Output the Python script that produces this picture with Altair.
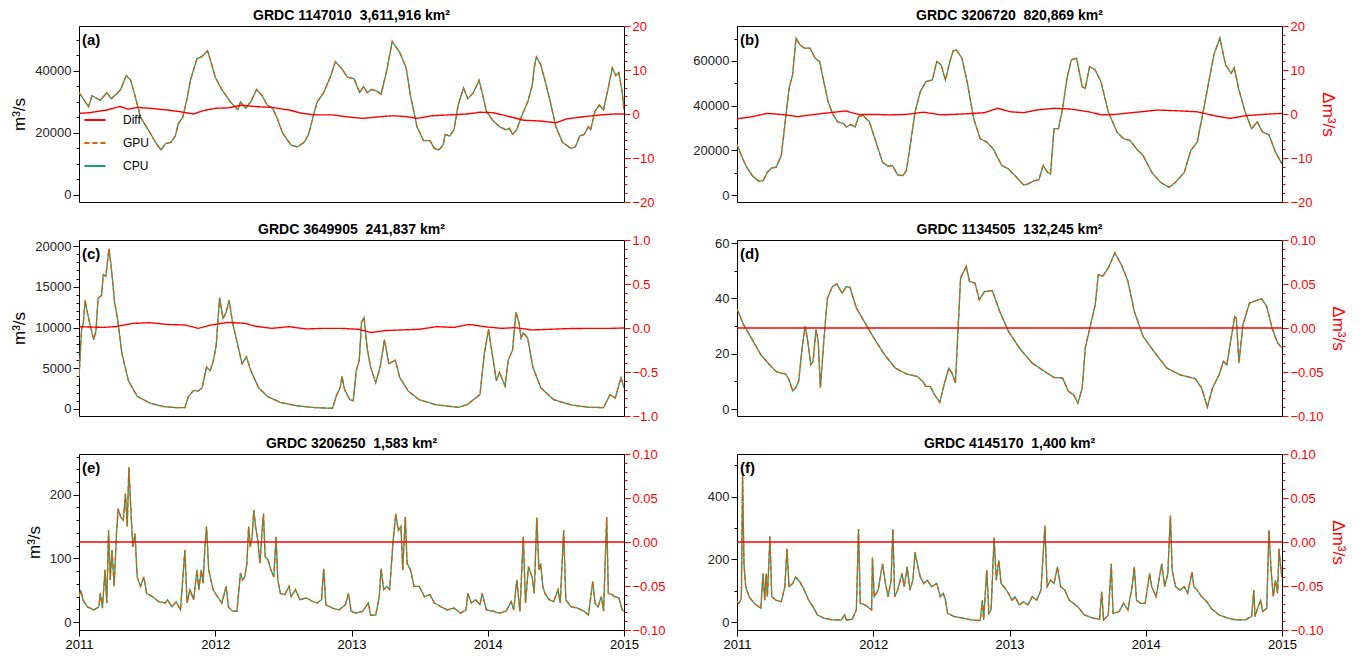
import altair as alt
import pandas as pd

FONT = "Liberation Sans"
C_GPU = "#d95f02"
C_CPU = "#1b9e77"
C_DIFF = "#ff0000"
SERIES = ["Diff", "GPU", "CPU"]

# ---------------- data (t = years since 2011-01-01) ----------------
a_t = [0.000,0.070,0.096,0.156,0.204,0.236,0.274,0.306,0.347,0.379,0.411,0.452,0.522,0.561,0.602,0.634,0.675,0.707,0.729,0.761,
       0.793,0.818,0.866,0.898,0.943,0.968,1.000,1.048,1.111,1.166,1.185,1.223,1.261,1.303,1.344,1.382,1.420,1.452,1.494,1.557,
       1.605,1.653,1.685,1.717,1.748,1.796,1.844,1.882,1.924,1.971,2.019,2.060,2.089,2.115,2.146,2.185,2.217,2.258,2.299,2.322,
       2.354,2.401,2.433,2.481,2.529,2.576,2.608,2.640,2.672,2.688,2.720,2.752,2.783,2.822,2.854,2.895,2.936,2.959,2.990,3.038,
       3.086,3.134,3.159,3.182,3.213,3.245,3.293,3.325,3.341,3.357,3.389,3.420,3.459,3.500,3.548,3.611,3.643,3.675,3.707,3.739,
       3.755,3.787,3.818,3.850,3.882,3.914,3.939,3.962,3.987,4.000]
a_q = [33000,28500,32000,30500,33000,31000,32500,34000,38500,37000,32000,25000,20000,17000,14500,16500,17000,19000,23000,25000,
       31000,37000,44000,44500,46500,43000,38000,34000,30000,27500,30000,28000,30000,34000,32000,29000,28000,25000,20000,16000,
       15500,17000,19500,25000,30000,33000,38000,43000,41000,38000,37500,33000,35000,33000,34000,33500,32500,40000,49500,48000,
       46000,41000,32000,22000,17500,17500,15000,14500,16000,19500,19000,21000,29000,34500,31000,33000,37000,33000,27000,24000,
       22000,21000,21500,19500,21000,25000,30000,35000,41000,44500,42000,37000,30000,22000,17000,15000,15500,19000,19500,22000,
       21000,27000,29000,27500,34000,41000,38500,39500,33000,27500]
a_dt = [0,0.076,0.204,0.299,0.363,0.427,0.522,0.650,0.745,0.841,0.904,1.000,1.096,1.191,1.287,1.414,1.541,1.637,1.732,1.860,
        1.955,2.083,2.210,2.306,2.401,2.481,2.592,2.720,2.847,2.943,3.038,3.134,3.261,3.389,3.500,3.580,3.707,3.834,3.930,4.0]
a_d = [0.15,0.3,0.9,1.7,1.1,1.5,1.3,0.9,0.5,0.0,0.7,1.3,1.4,2.0,1.7,1.5,0.9,0.15,-0.2,-0.2,
       -0.6,-1.0,-0.6,-0.4,-0.6,-1.0,-0.4,-0.2,0.0,0.4,0.3,-0.4,-1.4,-1.6,-2.0,-1.1,-0.6,-0.2,0.0,0.0]

b_t = [0.000,0.032,0.064,0.112,0.159,0.191,0.223,0.255,0.287,0.325,0.351,0.382,0.408,0.433,0.462,0.494,0.535,0.574,0.606,0.637,
       0.669,0.701,0.739,0.781,0.803,0.835,0.867,0.892,0.924,0.972,1.020,1.068,1.109,1.141,1.179,1.218,1.243,1.275,1.307,1.345,
       1.386,1.434,1.466,1.498,1.530,1.562,1.587,1.610,1.651,1.689,1.737,1.785,1.833,1.880,1.944,1.992,2.040,2.104,2.135,2.183,
       2.215,2.247,2.279,2.301,2.327,2.359,2.390,2.422,2.454,2.492,2.534,2.556,2.588,2.629,2.671,2.725,2.789,2.837,2.884,2.932,
       2.980,3.044,3.108,3.171,3.219,3.283,3.331,3.378,3.426,3.458,3.500,3.544,3.586,3.627,3.649,3.681,3.729,3.777,3.818,3.857,
       3.904,3.952,4.000]
b_q = [22650,17700,13200,8700,6150,6450,10200,12150,12450,17700,31200,47700,53700,70200,67200,65700,65700,61200,59700,50700,
       41700,36450,32700,31950,30450,31500,30450,34950,35700,32700,23700,14700,12900,13200,9000,8700,10950,23700,37200,46200,
       50700,51450,59700,58200,51450,59700,64500,64950,61200,50700,34200,25200,23700,20700,13200,11700,8700,4500,4950,6450,
       6750,13200,10200,9450,29700,29700,38700,52200,60450,61200,48450,47700,57450,55950,50700,37200,28200,25200,24450,20700,
       17700,10200,5700,3450,5700,10200,19950,23700,38700,49200,62700,70200,58200,54450,57000,47700,37200,29700,32700,28200,
       27000,19200,13950]
b_dt = [0,0.112,0.223,0.351,0.446,0.542,0.637,0.797,0.892,1.020,1.116,1.243,1.371,1.498,1.657,1.817,1.912,2.008,2.104,2.199,
        2.327,2.454,2.582,2.677,2.773,2.932,3.092,3.251,3.378,3.506,3.618,3.729,3.857,4.0]
b_d = [-1.1,-0.6,0.15,-0.2,-0.6,-0.2,0.15,0.7,-0.1,-0.1,-0.2,-0.1,0.4,-0.2,0.0,0.3,1.3,0.5,0.3,0.9,
       1.3,1.1,0.5,-0.2,-0.1,0.4,0.9,0.7,0.5,-0.4,-1.0,-0.4,-0.1,0.15]

c_t = [0,0.019,0.032,0.045,0.061,0.083,0.108,0.124,0.140,0.166,0.178,0.197,0.220,0.236,0.261,0.283,0.315,0.363,0.427,0.522,
       0.618,0.713,0.777,0.803,0.841,0.873,0.904,0.936,0.962,0.984,1.006,1.032,1.057,1.080,1.102,1.127,1.159,1.197,1.229,1.261,
       1.318,1.382,1.478,1.605,1.732,1.860,1.892,1.917,1.930,1.949,1.987,2.013,2.035,2.057,2.073,2.092,2.115,2.140,2.178,2.210,
       2.242,2.274,2.322,2.354,2.417,2.497,2.624,2.783,2.847,2.895,2.943,2.975,3.006,3.032,3.064,3.086,3.127,3.150,3.182,3.207,
       3.229,3.245,3.261,3.293,3.331,3.389,3.484,3.611,3.739,3.850,3.898,3.936,3.978,4.000]
c_q = [3870,9770,10600,13350,11870,10190,8500,9560,13560,13980,16500,16290,19660,17560,13140,11030,6820,3450,1560,715,
       295,170,170,1560,2270,2190,2610,5140,4720,5770,7660,13640,11110,11870,13350,10610,8290,5560,6400,4720,
       2610,1560,800,380,170,85,1770,2610,4000,2400,1140,1010,4720,5980,10610,11240,7450,5140,3240,5140,
       8500,5560,5980,3870,2190,1140,505,210,505,1140,1770,6820,9770,6820,3450,4500,2820,5980,7240,11870,
       10610,8710,9350,8710,5140,2610,1140,505,210,170,1770,1350,3870,2610]
c_dt = [0,0.172,0.268,0.395,0.522,0.650,0.777,0.873,0.968,1.096,1.223,1.287,1.414,1.541,1.669,1.796,1.924,2.051,2.146,2.242,
        2.369,2.497,2.624,2.752,2.863,2.975,3.102,3.197,3.325,3.452,3.580,3.739,3.898,4.0]
c_d = [0.015,0.007,0.015,0.052,0.06,0.04,0.034,-0.004,0.034,0.064,0.052,0.022,-0.004,0.015,-0.011,-0.004,-0.004,-0.015,-0.052,-0.03,
       -0.022,-0.015,0.015,0.007,0.041,0.015,-0.004,0.004,-0.022,-0.015,-0.007,-0.004,-0.004,0.0]

d_t = [0,0.048,0.112,0.175,0.239,0.287,0.319,0.357,0.382,0.408,0.430,0.453,0.478,0.500,0.516,0.542,0.558,0.580,0.596,0.612,
       0.637,0.663,0.701,0.733,0.771,0.803,0.829,0.876,0.940,1.004,1.084,1.163,1.243,1.323,1.364,1.386,1.418,1.450,1.488,1.520,
       1.555,1.578,1.603,1.641,1.683,1.705,1.747,1.778,1.817,1.874,1.928,1.992,2.072,2.167,2.263,2.327,2.390,2.432,2.470,2.502,
       2.534,2.556,2.598,2.629,2.652,2.684,2.725,2.773,2.821,2.869,2.916,2.980,3.060,3.155,3.251,3.363,3.410,3.452,3.490,3.538,
       3.570,3.595,3.627,3.653,3.665,3.684,3.713,3.761,3.809,3.850,3.888,3.927,3.968,4.000]
d_q = [36.3,30.5,25.1,19.6,16.0,13.6,13.0,12.7,10.6,6.6,7.6,10.2,22.1,29.9,25.7,16.0,17.2,28.7,24.5,7.6,
       24.5,40.1,44.3,45.2,41.9,44.3,44.0,36.5,31.1,25.7,19.6,14.8,12.7,11.8,10.0,8.2,8.2,5.2,2.4,8.8,
       14.8,13.0,9.4,47.4,51.6,46.2,45.5,39.5,42.5,42.8,35.3,28.1,22.1,16.6,13.4,11.4,11.2,6.4,5.2,2.2,
       7.6,22.1,31.1,37.7,48.6,48.0,51.0,56.4,52.2,46.2,35.3,26.3,20.8,14.8,12.4,11.0,7.6,0.7,7.6,12.4,
       17.2,16.0,25.7,33.5,32.9,16.6,30.5,38.3,39.2,39.9,37.1,29.3,23.9,22.1]
d_dt = [0, 4]
d_d = [0.0, 0.0]

e_t = [0,0.013,0.029,0.061,0.108,0.146,0.156,0.172,0.191,0.204,0.217,0.229,0.242,0.258,0.274,0.287,0.306,0.325,0.341,0.354,
       0.366,0.382,0.395,0.411,0.427,0.452,0.475,0.497,0.538,0.586,0.634,0.650,0.682,0.713,0.745,0.777,0.793,0.815,0.841,0.866,
       0.879,0.898,0.911,0.924,0.936,0.952,0.968,0.984,1.016,1.048,1.080,1.096,1.127,1.159,1.185,1.201,1.217,1.232,1.245,1.258,
       1.271,1.283,1.296,1.312,1.328,1.344,1.354,1.366,1.389,1.408,1.430,1.446,1.459,1.478,1.510,1.541,1.557,1.589,1.621,1.669,
       1.717,1.748,1.780,1.796,1.812,1.860,1.908,1.955,1.978,1.997,2.035,2.083,2.124,2.140,2.178,2.204,2.217,2.236,2.258,2.280,
       2.306,2.325,2.344,2.363,2.376,2.395,2.408,2.433,2.459,2.497,2.535,2.576,2.608,2.656,2.704,2.752,2.799,2.841,2.854,2.879,
       2.911,2.943,2.959,2.990,3.038,3.086,3.134,3.172,3.191,3.213,3.236,3.261,3.277,3.299,3.325,3.341,3.360,3.376,3.389,3.404,
       3.420,3.452,3.484,3.516,3.532,3.557,3.573,3.611,3.659,3.707,3.739,3.771,3.787,3.809,3.834,3.850,3.873,3.885,3.914,3.930,
       3.962,3.987,4.000]
e_q = [40,50,35,24,19,24,45,22,82,30,144,66,113,56,134,178,165,160,202,150,
       243,170,118,139,71,56,71,45,40,32,30,35,24,32,19,113,30,51,35,82,
       51,82,61,118,150,82,66,51,40,30,56,24,17,17,77,66,71,92,150,118,
       134,176,150,129,92,144,170,103,97,82,71,134,66,45,43,56,40,51,35,38,
       32,30,35,84,27,22,19,27,45,17,14,17,30,11,11,40,84,51,56,51,
       129,170,144,150,82,165,92,82,56,56,40,43,30,24,19,22,14,19,45,30,
       35,27,45,19,17,14,17,32,19,66,17,134,30,87,71,45,164,82,92,56,
       45,35,32,51,30,144,35,24,22,17,11,64,30,24,40,17,165,45,43,40,
       38,19,17]
e_dt = [0, 4]
e_d = [0.0, 0.0]

f_t = [0,0.016,0.032,0.041,0.051,0.064,0.089,0.127,0.175,0.191,0.204,0.214,0.223,0.242,0.255,0.287,0.325,0.351,0.367,0.382,
       0.408,0.430,0.462,0.494,0.526,0.558,0.590,0.637,0.701,0.765,0.790,0.803,0.845,0.876,0.892,0.905,0.940,0.988,0.994,1.007,
       1.036,1.068,1.090,1.109,1.131,1.144,1.157,1.179,1.211,1.227,1.249,1.269,1.291,1.307,1.323,1.345,1.371,1.396,1.428,1.466,
       1.492,1.514,1.530,1.546,1.594,1.657,1.721,1.785,1.801,1.810,1.833,1.849,1.865,1.887,1.903,1.922,1.938,1.960,1.992,2.018,
       2.040,2.072,2.104,2.135,2.167,2.199,2.231,2.260,2.276,2.301,2.327,2.352,2.375,2.406,2.438,2.470,2.502,2.550,2.614,2.661,
       2.677,2.690,2.725,2.747,2.760,2.805,2.837,2.869,2.900,2.916,2.932,2.964,2.996,3.028,3.044,3.076,3.117,3.139,3.162,3.181,
       3.194,3.219,3.251,3.283,3.308,3.340,3.353,3.378,3.410,3.449,3.480,3.538,3.602,3.665,3.729,3.777,3.793,3.802,3.825,3.844,
       3.857,3.888,3.904,3.920,3.936,3.952,3.968,3.978,3.990,4.000]
f_q = [65,60,76,470,186,113,81,60,44,155,70,155,81,273,81,70,65,113,234,113,
       123,144,128,102,70,49,23,13,7,7,23,7,9,39,297,60,55,39,207,81,
       102,186,123,81,134,297,81,102,155,113,176,102,134,223,186,144,123,134,113,123,
       81,92,70,28,18,13,7,5,70,7,165,28,39,270,134,197,123,113,92,70,
       81,55,65,55,81,70,102,307,113,134,123,176,113,102,70,60,49,23,13,9,
       97,7,23,186,28,34,60,39,113,176,70,60,60,155,113,81,186,113,155,339,
       165,113,102,113,92,160,113,102,81,65,44,23,13,7,7,18,102,18,49,70,
       34,44,292,165,81,134,92,234,176,144]
f_dt = [0, 4]
f_d = [0.0, 0.0]

PANELS = [
    dict(lab="(a)", title="GRDC 1147010 \u00a03,611,916 km²", t=a_t, q=a_q, dt=a_dt, d=a_d,
         ydom=[-2300, 54500], ymaj=20000, ymin=5000, ytop=50000,
         rdom=[-20, 20], rmaj=10, rmin=2, rfmt="d", left=True, right=False, bottom=False, legend=True),
    dict(lab="(b)", title="GRDC 3206720 \u00a0820,869 km²", t=b_t, q=b_q, dt=b_dt, d=b_d,
         ydom=[-3100, 75600], ymaj=20000, ymin=10000, ytop=70000,
         rdom=[-20, 20], rmaj=10, rmin=2, rfmt="d", left=False, right=True, bottom=False, legend=False),
    dict(lab="(c)", title="GRDC 3649905 \u00a0241,837 km²", t=c_t, q=c_q, dt=c_dt, d=c_d,
         ydom=[-860, 20740], ymaj=5000, ymin=1000, ytop=20000,
         rdom=[-1.0, 1.0], rmaj=0.5, rmin=0.1, rfmt=".1f", left=True, right=False, bottom=False, legend=False),
    dict(lab="(d)", title="GRDC 1134505 \u00a0132,245 km²", t=d_t, q=d_q, dt=d_dt, d=d_d,
         ydom=[-2.5, 61.1], ymaj=20, ymin=10, ytop=60,
         rdom=[-0.1, 0.1], rmaj=0.05, rmin=0.01, rfmt=".2f", left=False, right=True, bottom=False, legend=False),
    dict(lab="(e)", title="GRDC 3206250 \u00a01,583 km²", t=e_t, q=e_q, dt=e_dt, d=e_d,
         ydom=[-12.5, 264], ymaj=100, ymin=20, ytop=260,
         rdom=[-0.1, 0.1], rmaj=0.05, rmin=0.01, rfmt=".2f", left=True, right=False, bottom=True, legend=False),
    dict(lab="(f)", title="GRDC 4145170 \u00a01,400 km²", t=f_t, q=f_q, dt=f_dt, d=f_d,
         ydom=[-25, 536], ymaj=200, ymin=100, ytop=500,
         rdom=[-0.1, 0.1], rmaj=0.05, rmin=0.01, rfmt=".2f", left=False, right=True, bottom=True, legend=False),
]


def is_major(step):
    return f"abs(datum.value/{step} - round(datum.value/{step})) < 1e-6"


def steps(lo, hi, step):
    n = int(round((hi - lo) / step))
    return [round(lo + k * step, 6) for k in range(n + 1)]


def panel(p):
    years_q = [2011 + t for t in p["t"]]
    qdf = pd.DataFrame({"year": years_q, "q": p["q"]})
    cpu_df = qdf.assign(series="CPU")
    gpu_df = qdf.assign(series="GPU")
    ddf = pd.DataFrame({"year": [2011 + t for t in p["dt"]], "d": p["d"]}).assign(series="Diff")

    if p["bottom"]:
        xaxis = alt.Axis(values=[2011, 2012, 2013, 2014, 2015], format="d", title=None, grid=False,
                         domain=False, tickSize=6, tickColor="black", labelFontSize=13,
                         labelColor="black", labelFlush=False, labelPadding=2)
    else:
        xaxis = None
    x = alt.X("year:Q", scale=alt.Scale(domain=[2011, 2015], nice=False, zero=False), axis=xaxis)

    lmaj = is_major(p["ymaj"])
    laxis = alt.Axis(values=steps(0, p["ytop"], p["ymin"]),
                     labelExpr=f"{lmaj} ? format(datum.value, 'd') : ''",
                     tickSize={"condition": {"test": lmaj, "value": 6}, "value": 3},
                     title="m³/s" if p["left"] else None, titleFontSize=17, titleFontWeight="normal",
                     titleColor="black", titlePadding=6,
                     grid=False, domain=False, tickColor="black", labelColor="#222222",
                     labelFontSize=13, labelOverlap=False, labelFlush=False, labelPadding=2)
    yq = alt.Y("q:Q", scale=alt.Scale(domain=p["ydom"], nice=False, zero=False), axis=laxis)

    rmaj = is_major(p["rmaj"])
    raxis = alt.Axis(orient="right", values=steps(p["rdom"][0], p["rdom"][1], p["rmin"]),
                     labelExpr=f"{rmaj} ? format(datum.value, '{p['rfmt']}') : ''",
                     tickSize={"condition": {"test": rmaj, "value": 6}, "value": 3},
                     title="Δm³/s" if p["right"] else None, titleFontSize=17, titleFontWeight="normal",
                     titleColor=C_DIFF, titlePadding=6,
                     grid=False, domain=False, tickColor=C_DIFF, labelColor=C_DIFF,
                     labelFontSize=13, labelOverlap=False, labelFlush=False, labelPadding=2)
    yd = alt.Y("d:Q", scale=alt.Scale(domain=p["rdom"], nice=False, zero=False), axis=raxis)

    if p["legend"]:
        leg = alt.Legend(orient="none", legendX=4, legendY=82, title=None, symbolType="stroke",
                         symbolSize=450, symbolStrokeWidth=2, labelFontSize=12, labelColor="black",
                         labelFont=FONT, rowPadding=5, labelOffset=16, padding=0)
    else:
        leg = None
    color = alt.Color("series:N", scale=alt.Scale(domain=SERIES, range=[C_DIFF, C_GPU, C_CPU]), legend=leg)
    dash = alt.StrokeDash("series:N", scale=alt.Scale(domain=SERIES, range=[[1, 0], [5, 3], [1, 0]]), legend=leg)

    cpu = alt.Chart(cpu_df).mark_line(strokeWidth=1.3, clip=True).encode(x=x, y=yq, color=color, strokeDash=dash)
    gpu = alt.Chart(gpu_df).mark_line(strokeWidth=1.3, clip=True).encode(x=x, y=yq, color=color, strokeDash=dash)
    label = alt.Chart(pd.DataFrame({"lab": [p["lab"]]})).mark_text(
        font=FONT, fontSize=15, fontWeight="bold", align="left", baseline="middle", color="black"
    ).encode(text="lab:N", x=alt.value(3), y=alt.value(14))
    diff = alt.Chart(ddf).mark_line(strokeWidth=1.4, clip=True).encode(x=x, y=yd, color=color, strokeDash=dash)

    return alt.layer(alt.layer(cpu, gpu, label), diff).resolve_scale(y="independent").properties(
        width=545, height=176,
        title=alt.TitleParams(p["title"], font=FONT, fontSize=14, fontWeight="bold", anchor="middle",
                              frame="group", offset=-3, color="black"))


chart = alt.concat(*[panel(p) for p in PANELS], columns=2,
                   spacing={"row": 12, "column": 26}).resolve_scale(
    color="independent", strokeDash="independent"
).properties(padding={"left": 2, "top": 0, "right": 5, "bottom": 0}).configure_view(
    stroke="black", strokeWidth=1
).configure_axis(labelFont=FONT, titleFont=FONT).configure_title(font=FONT)

chart.save("out.html", embed_options={"renderer": "svg", "actions": False})
